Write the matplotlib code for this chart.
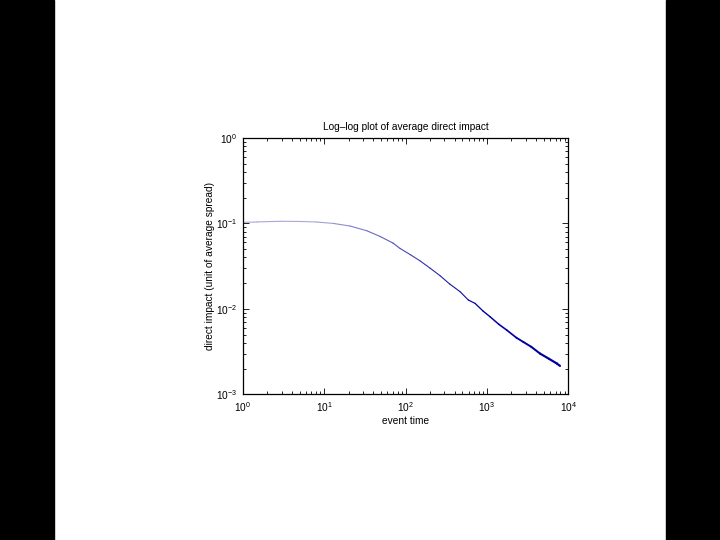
import matplotlib
matplotlib.use("Agg")
import matplotlib.pyplot as plt
from matplotlib.patches import Rectangle
from matplotlib.collections import LineCollection
import numpy as np

plt.rcParams['font.family'] = ['Liberation Sans', 'DejaVu Sans']
plt.rcParams['mathtext.default'] = 'regular'

# data (event time, direct impact)
event_time = [1, 1.5, 2, 3, 5, 8, 13, 20.8, 33.4, 48.6, 70, 85.6, 115, 151,
              200, 265, 350, 468, 591, 715, 900, 1092, 1400, 1750, 2300,
              2799, 3500, 4490, 5800, 7200, 7900]
impact = [0.103, 0.104, 0.105, 0.106, 0.1055, 0.104, 0.100, 0.0933, 0.0822,
          0.0705, 0.059, 0.051, 0.043, 0.0365, 0.0300, 0.0245, 0.0195,
          0.0159, 0.0127, 0.0116, 0.0094, 0.0081, 0.0066, 0.00565, 0.0046,
          0.0041, 0.0036, 0.0030, 0.0026, 0.0023, 0.00215]

title = "Log\u2013log plot of average direct impact"
xlabel = "event time"
ylabel = "direct impact (unit of average spread)"

fig = plt.figure(figsize=(7.2, 5.4), dpi=100)
fig.patch.set_facecolor('white')
fig.patches.append(Rectangle((0, 0), 54/720, 1, transform=fig.transFigure,
                             color='black', zorder=-1))
fig.patches.append(Rectangle((666/720, 0), 54/720, 1, transform=fig.transFigure,
                             color='black', zorder=-1))

ax = fig.add_axes([242.7/720, 1 - 394.3/540, (568.3-242.7)/720, (394.3-138)/540])
ax.set_xscale('log')
ax.set_yscale('log')

# line drawn as segments, lighter where the line is thin/smooth
x = np.array(event_time)
y = np.array(impact)
pts = np.column_stack([x, y]).reshape(-1, 1, 2)
segs = np.concatenate([pts[:-1], pts[1:]], axis=1)
cols = []
lws = []
for xi in x[:-1]:
    t = min(max((np.log10(xi) - 0.8) / 2.0, 0), 1)
    c1 = np.array([0.66, 0.66, 0.85])
    c2 = np.array([0.0, 0.0, 0.62])
    cols.append(tuple(c1 * (1 - t) + c2 * t))
    lws.append(0.8 + 0.8 * min(max((np.log10(xi) - 2.7) / 1.0, 0), 1))
lc = LineCollection(segs, colors=cols, linewidths=lws, capstyle='round',
                    joinstyle='round')
ax.add_collection(lc)

ax.set_xlim(1, 1e4)
ax.set_ylim(1e-3, 1)
ax.set_xticks([1, 10, 100, 1000, 10000])
ax.set_xticklabels(['$10^{0}$', '$10^{1}$', '$10^{2}$', '$10^{3}$', '$10^{4}$'])
ax.set_yticks([1e-3, 1e-2, 1e-1, 1])
ax.set_yticklabels(['$10^{-3}$', '$10^{-2}$', '$10^{-1}$', '$10^{0}$'])

ax.tick_params(which='both', direction='in', top=True, right=True,
               labelsize=7.3, width=0.6, colors='black')
ax.tick_params(which='major', length=4, pad=4)
ax.tick_params(which='minor', length=2)
for s in ax.spines.values():
    s.set_linewidth(0.9)

ax.set_title(title, fontsize=7.3, pad=6)
ax.set_xlabel(xlabel, fontsize=7.3, labelpad=2)
ax.set_ylabel(ylabel, fontsize=7.3, labelpad=1)

fig.savefig("out.png", dpi=100)
